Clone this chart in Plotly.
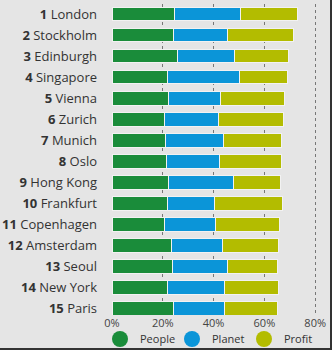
import plotly.graph_objects as go

cities = ["London", "Stockholm", "Edinburgh", "Singapore", "Vienna", "Zurich", "Munich",
          "Oslo", "Hong Kong", "Frankfurt", "Copenhagen", "Amsterdam", "Seoul", "New York", "Paris"]
ranks = list(range(1, 16))
people = [24.6, 24.1, 25.8, 21.7, 22.4, 20.6, 21.2, 21.6, 22.2, 21.9, 20.7, 23.3, 23.7, 21.7, 24.2]
planet = [26.0, 21.2, 22.3, 28.5, 20.3, 21.5, 22.6, 20.6, 25.6, 18.3, 20.2, 20.2, 21.7, 22.6, 20.1]
profit = [22.6, 26.2, 21.5, 19.0, 25.2, 25.4, 22.9, 24.4, 18.5, 26.9, 25.2, 22.1, 19.8, 21.3, 20.7]
tick_vals = [0, 20, 40, 60, 80]
tick_text = ["0%", "20%", "40%", "60%", "80%"]

labels = [f"<b>{r}</b> {c}" for r, c in zip(ranks, cities)]
colors = {"People": "#1a8c3a", "Planet": "#0b95d8", "Profit": "#b3bc00"}

W, H = 332, 350
L, R, T, B = 112, 6, 4, 35
pw, ph = W - L - R, H - T - B

fig = go.Figure()
for name, vals in [("People", people), ("Planet", planet), ("Profit", profit)]:
    fig.add_trace(go.Bar(
        y=labels, x=vals, orientation="h", name=name,
        marker=dict(color=colors[name], line=dict(color="#f2f2f2", width=1)),
        width=0.64, showlegend=False))
for name in ["People", "Planet", "Profit"]:
    fig.add_trace(go.Scatter(
        x=[None], y=[None], mode="markers", name=name,
        marker=dict(color=colors[name], size=16, symbol="circle")))

fig.update_layout(
    width=W, height=H,
    margin=dict(l=L, r=R, t=T, b=B, autoexpand=False),
    barmode="stack",
    paper_bgcolor="#e5e5e5", plot_bgcolor="#e5e5e5",
    font=dict(family="Open Sans", color="#333333"),
    xaxis=dict(range=[0, 84.25], tickvals=tick_vals, ticktext=tick_text,
               showgrid=True, gridcolor="#777777", griddash="dot", gridwidth=1,
               zeroline=False, tickfont=dict(size=11, color="#444444"),
               ticks="", ticklabelstandoff=0, fixedrange=True),
    yaxis=dict(range=[14.3, -0.48], categoryorder="array", categoryarray=labels,
               tickfont=dict(size=13, color="#333333"), ticks="", ticklabelstandoff=14,
               showgrid=False, zeroline=False),
    legend=dict(orientation="h", x=-12 / pw, xanchor="left",
                y=-24 / ph, yanchor="middle",
                traceorder="normal",
                font=dict(size=11, color="#333333"), bgcolor="rgba(0,0,0,0)",
                entrywidth=27, entrywidthmode="pixels", itemsizing="trace"),
    showlegend=True,
    shapes=[
        dict(type="line", xref="paper", yref="paper",
             x0=(W - 1 - L) / pw, x1=(W - 1 - L) / pw, y0=-(H - T - ph) / ph, y1=(T + ph) / ph,
             line=dict(color="#333333", width=2)),
        dict(type="line", xref="paper", yref="paper",
             x0=-L / pw, x1=(W - L) / pw, y0=-(H - 1 - T - ph) / ph, y1=-(H - 1 - T - ph) / ph,
             line=dict(color="#333333", width=2)),
    ],
)
fig.write_html("out.html")
